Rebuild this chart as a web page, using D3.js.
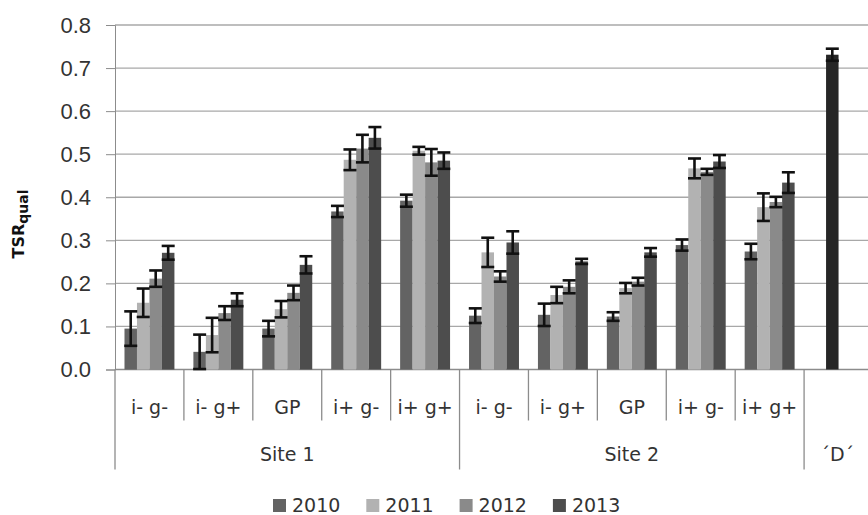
<html>
<head>
<style>
    body { margin: 0; background: #fff; }
    svg { font-family: 'DejaVu Sans', sans-serif; }
    .y .domain { stroke: #8c8c8c; }
    .y .tick line { stroke: #8c8c8c; }
    .y .tick text { font-size: 22px; fill: #333; }
    .grid line { stroke: #a8a8a8; stroke-width: 1.3; }
</style>
</head>
<body>
<svg width="868" height="515"></svg>
<script src="https://d3js.org/d3.v7.min.js"></script>
<script>

// groups and treatments along the x axis
let sites = ["Site 1", "Site 2"]
let treatments = ["i- g-", "i- g+", "GP", "i+ g-", "i+ g+"]
let years = ["2010", "2011", "2012", "2013"]
let yTicks = [0, 0.1, 0.2, 0.3, 0.4, 0.5, 0.6, 0.7, 0.8]

// means, Site 1 treatments then Site 2 treatments
let mean2010 = [0.095, 0.041, 0.095, 0.367, 0.392, 0.125, 0.127, 0.123, 0.289, 0.274]
let mean2011 = [0.155, 0.080, 0.140, 0.487, 0.508, 0.272, 0.173, 0.189, 0.467, 0.377]
let mean2012 = [0.211, 0.131, 0.178, 0.513, 0.481, 0.216, 0.192, 0.204, 0.459, 0.389]
let mean2013 = [0.271, 0.162, 0.243, 0.538, 0.485, 0.295, 0.251, 0.272, 0.483, 0.434]

// error bar half widths
let err2010 = [0.040, 0.040, 0.018, 0.013, 0.014, 0.017, 0.026, 0.010, 0.013, 0.018]
let err2011 = [0.033, 0.040, 0.019, 0.024, 0.009, 0.034, 0.019, 0.012, 0.023, 0.032]
let err2012 = [0.019, 0.016, 0.017, 0.032, 0.031, 0.012, 0.015, 0.009, 0.007, 0.012]
let err2013 = [0.016, 0.015, 0.020, 0.025, 0.019, 0.026, 0.006, 0.010, 0.015, 0.024]

// the 'D' reference value
let dLabel = "\u00b4D\u00b4"
let dMean = [0.731]
let dErr = [0.014]

let colors = {"2010": "#636363", "2011": "#b2b2b2", "2012": "#8a8a8a", "2013": "#4d4d4d"}
let dColor = "#262626"

let svg = d3.select("svg")
let margin = {top: 25, right: -5, bottom: 145.5, left: 115}
let width = 868, height = 515

let means = [mean2010, mean2011, mean2012, mean2013]
let errs = [err2010, err2011, err2012, err2013]

let keys = []
sites.forEach(s => treatments.forEach(t => keys.push(s + "|" + t)))
keys.push("D")

let data = []
years.forEach((yr, i) => {
    keys.slice(0, 10).forEach((k, j) => {
        data.push({key: k, year: yr, value: means[i][j], err: errs[i][j], color: colors[yr]})
    })
})
data.push({key: "D", year: "2011", value: dMean[0], err: dErr[0], color: dColor})

let x = d3.scaleBand()
    .domain(keys)
    .range([margin.left, width - margin.right])

let xSub = d3.scaleBand()
    .domain(years)
    .range([0, x.bandwidth()])
    .paddingInner(0)
    .paddingOuter(0.76)

let y = d3.scaleLinear()
    .domain([0, 0.8])
    .range([height - margin.bottom, margin.top])

// horizontal gridlines
svg.append("g")
    .attr("class", "grid")
    .selectAll("line")
    .data(yTicks.slice(1))
    .join("line")
    .attr("x1", margin.left)
    .attr("x2", width - margin.right)
    .attr("y1", d => y(d))
    .attr("y2", d => y(d))

let yAxis = svg.append("g")
    .attr("class", "y axis")
    .attr("transform", `translate(${margin.left}, 0)`)
    .call(d3.axisLeft(y).tickValues(yTicks).tickFormat(d3.format(".1f")).tickSize(9).tickPadding(15))

// x axis baseline
svg.append("line")
    .attr("x1", margin.left)
    .attr("x2", width - margin.right)
    .attr("y1", y(0))
    .attr("y2", y(0))
    .style("stroke", "#8c8c8c")
    .style("stroke-width", 1.3)

// bars
svg.append("g")
    .selectAll("rect")
    .data(data)
    .join("rect")
    .attr("x", d => x(d.key) + xSub(d.year))
    .attr("width", xSub.bandwidth())
    .attr("y", d => y(d.value))
    .attr("height", d => y(0) - y(d.value))
    .style("fill", d => d.color)

// error bars
let eb = svg.append("g")
    .selectAll("g")
    .data(data)
    .join("g")
    .style("stroke", "#111")
    .style("stroke-width", 2.6)

let cx = d => x(d.key) + xSub(d.year) + xSub.bandwidth() / 2
eb.append("line")
    .attr("x1", cx).attr("x2", cx)
    .attr("y1", d => y(d.value + d.err))
    .attr("y2", d => y(Math.max(0, d.value - d.err)))
eb.append("line")
    .attr("x1", d => cx(d) - 6.5).attr("x2", d => cx(d) + 6.5)
    .attr("y1", d => y(d.value + d.err)).attr("y2", d => y(d.value + d.err))
eb.append("line")
    .attr("x1", d => cx(d) - 6.5).attr("x2", d => cx(d) + 6.5)
    .attr("y1", d => y(Math.max(0, d.value - d.err))).attr("y2", d => y(Math.max(0, d.value - d.err)))

// category dividers
let base = y(0)
let shortTicks = keys.slice(0, 10).map(k => x(k)).filter((v, i) => i % 5 != 0)
svg.append("g")
    .selectAll("line")
    .data(shortTicks)
    .join("line")
    .attr("x1", d => d).attr("x2", d => d)
    .attr("y1", base).attr("y2", base + 51)
    .style("stroke", "#8c8c8c").style("stroke-width", 1.3)

let longTicks = [x(keys[0]), x(keys[5]), x("D"), x("D") + x.bandwidth()]
svg.append("g")
    .selectAll("line")
    .data(longTicks)
    .join("line")
    .attr("x1", d => d).attr("x2", d => d)
    .attr("y1", base).attr("y2", base + 100)
    .style("stroke", "#8c8c8c").style("stroke-width", 1.3)

// treatment labels
svg.append("g")
    .selectAll("text")
    .data(keys.slice(0, 10))
    .join("text")
    .attr("x", d => x(d) + x.bandwidth() / 2)
    .attr("y", base + 44)
    .attr("text-anchor", "middle")
    .style("font-size", "19px")
    .style("fill", "#333")
    .text(d => d.split("|")[1])

// site labels
svg.append("g")
    .selectAll("text")
    .data(sites)
    .join("text")
    .attr("x", (d, i) => (x(keys[i * 5]) + x(keys[i * 5 + 4]) + x.bandwidth()) / 2)
    .attr("y", base + 91)
    .attr("text-anchor", "middle")
    .style("font-size", "19px")
    .style("fill", "#333")
    .text(d => d)

svg.append("text")
    .attr("x", x("D") + xSub("2011") + xSub.bandwidth() / 2 + 5)
    .attr("y", base + 91)
    .attr("text-anchor", "middle")
    .style("font-size", "19px")
    .style("fill", "#333")
    .text(dLabel)

// y title
let yt = svg.append("text")
    .attr("transform", "translate(24, 224) rotate(-90)")
    .attr("text-anchor", "middle")
    .style("font-weight", "bold")
    .style("font-size", "16px")
    .style("fill", "#111")
yt.append("tspan").text("TSR")
yt.append("tspan").attr("dy", 4).style("font-size", "14px").text("qual")

// legend
let legend = svg.append("g")
    .attr("transform", "translate(273, 499)")
    .selectAll("g")
    .data(years)
    .join("g")
    .attr("transform", (d, i) => `translate(${i * 93.3}, 0)`)

legend.append("rect")
    .attr("width", 13).attr("height", 13)
    .style("fill", d => colors[d])

legend.append("text")
    .attr("x", 19)
    .attr("y", 6.5)
    .attr("dy", "0.35em")
    .style("font-size", "19px")
    .style("fill", "#333")
    .text(d => d)

</script>
</body>
</html>
